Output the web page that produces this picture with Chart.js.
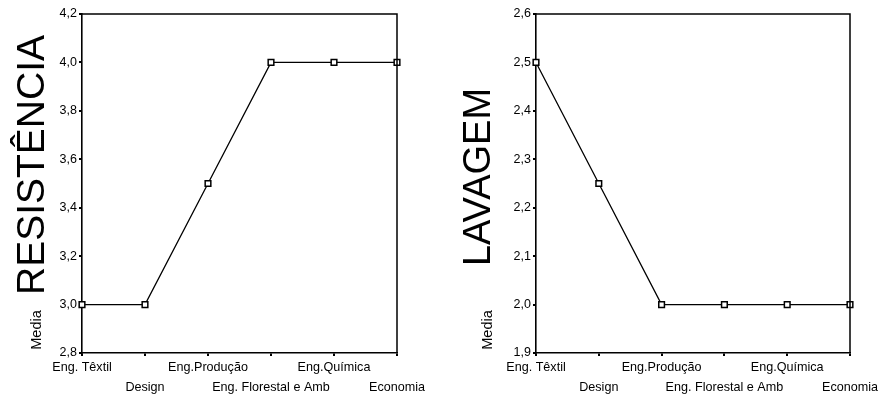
<!DOCTYPE html>
<html>
<head>
<meta charset="utf-8">
<script src="https://cdn.jsdelivr.net/npm/chart.js@4.4.1/dist/chart.umd.min.js"></script>
<style>
  html, body { margin: 0; padding: 0; background: #fff; }
  body { width: 886px; height: 395px; position: relative; overflow: hidden; font-family: "Liberation Sans", Arial, sans-serif; }
  .panel { position: absolute; top: 0; width: 443px; height: 395px; }
  .ttl { position: absolute; white-space: nowrap; color: #000; transform: translate(-50%, -50%) rotate(-90deg); line-height: 1; }
  .big { font-size: 39px; }
  .small { font-size: 14.5px; }
</style>
</head>
<body>
<div class="panel" style="left:0">
  <canvas id="c1" width="443" height="395"></canvas>
</div>
<div class="panel" style="left:443px">
  <canvas id="c2" width="443" height="395"></canvas>
</div>
<div class="ttl big" style="left:30px; top:165px">RESISTÊNCIA</div>
<div class="ttl small" style="left:36px; top:330px">Media</div>
<div class="ttl big" style="left:477px; top:177px; font-size:38px">LAVAGEM</div>
<div class="ttl small" style="left:487px; top:330px">Media</div>
<script>
const categories = ["Eng. Têxtil", "Design", "Eng.Produção", "Eng. Florestal e Amb", "Eng.Química", "Economia"];
const resistenciaValues = [3.0, 3.0, 3.5, 4.0, 4.0, 4.0];
const lavagemValues = [2.5, 2.25, 2.0, 2.0, 2.0, 2.0];
const resistenciaTicks = { min: 2.8, max: 4.2, step: 0.2 };
const lavagemTicks = { min: 1.9, max: 2.6, step: 0.1 };

const FONT = "'Liberation Sans', Arial, sans-serif";

const framePlugin = {
  id: 'frame',
  afterDraw(chart) {
    const a = chart.chartArea, ctx = chart.ctx;
    ctx.save();
    ctx.strokeStyle = '#000';
    ctx.lineWidth = 1.5;
    ctx.beginPath();
    ctx.moveTo(a.left, a.top);
    ctx.lineTo(a.right, a.top);
    ctx.lineTo(a.right, a.bottom);
    ctx.stroke();
    ctx.restore();
  }
};

function makeChart(id, values, t, yWidth, padRight) {
  return new Chart(document.getElementById(id), {
    type: 'line',
    data: {
      labels: categories,
      datasets: [{
        data: values,
        borderColor: '#000',
        borderWidth: 1.3,
        tension: 0,
        pointStyle: 'rect',
        pointRadius: 4,
        pointHoverRadius: 4,
        pointBackgroundColor: '#fff',
        pointBorderColor: '#000',
        pointBorderWidth: 1.5
      }]
    },
    options: {
      responsive: false,
      animation: false,
      events: [],
      layout: { padding: { left: 0, right: padRight, top: 14, bottom: 0 } },
      plugins: { legend: { display: false }, tooltip: { enabled: false } },
      scales: {
        x: {
          type: 'category',
          offset: false,
          grid: { drawOnChartArea: false, tickLength: 3, color: '#000', lineWidth: 2 },
          border: { display: true, color: '#000', width: 1.6 },
          ticks: {
            autoSkip: false, maxRotation: 0, minRotation: 0, padding: 1,
            color: '#000',
            font: { family: FONT, size: 12.6, lineHeight: 1.6 },
            callback: function(v, i) {
              const l = categories[i];
              return i % 2 === 0 ? [l, ''] : ['', l];
            }
          },
          afterFit(scale) { scale.height = 42; }
        },
        y: {
          min: t.min, max: t.max,
          grid: { drawOnChartArea: false, tickLength: 3, color: '#000', lineWidth: 2 },
          border: { display: true, color: '#000', width: 1.6 },
          ticks: {
            stepSize: t.step, padding: 2, color: '#000',
            font: { family: FONT, size: 12.5 },
            callback: function(v) { return v.toFixed(1).replace('.', ','); }
          },
          afterFit(scale) { scale.width = yWidth; }
        }
      }
    },
    plugins: [framePlugin]
  });
}

makeChart('c1', resistenciaValues, resistenciaTicks, 82, 46);
makeChart('c2', lavagemValues, lavagemTicks, 93, 36);
</script>
</body>
</html>
